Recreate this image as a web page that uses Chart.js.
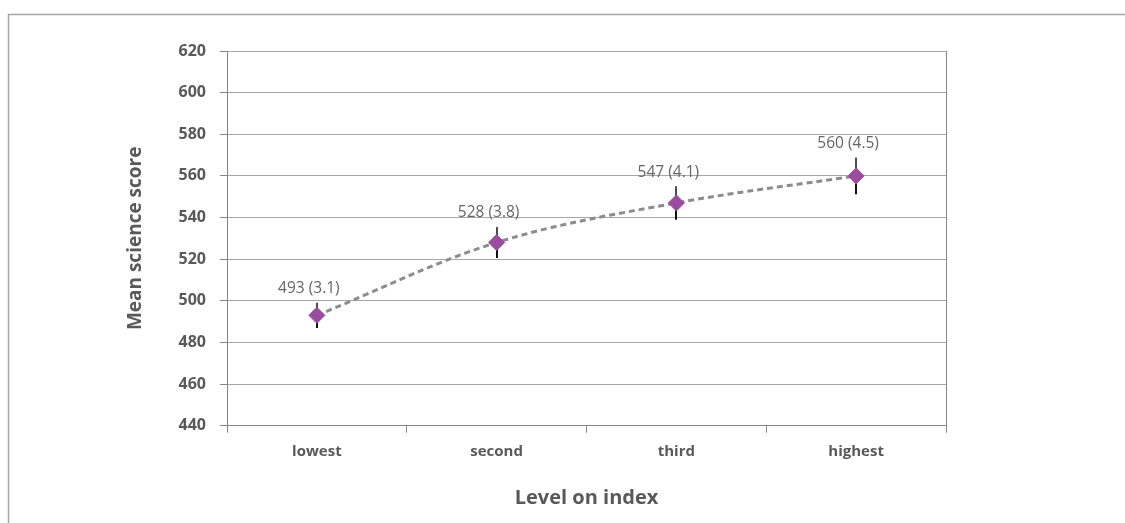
<!DOCTYPE html>
<html>
<head>
<meta charset="utf-8">
<script src="https://cdn.jsdelivr.net/npm/chart.js@4/dist/chart.umd.min.js"></script>
<style>
  html, body { margin: 0; padding: 0; background: #fff; }
  #wrap { width: 1125px; height: 523px; }
</style>
</head>
<body>
<div id="wrap"><canvas id="scoreChart" width="1125" height="523"></canvas></div>
<script>
// chart data
const levels     = ['lowest', 'second', 'third', 'highest'];
const meanScores = [493, 528, 547, 560];
const stdErrors  = [3.1, 3.8, 4.1, 4.5];
const yTicks     = { min: 440, max: 620, step: 20 };

const FONT       = '"Open Sans", "Noto Sans", sans-serif';
const TEXT_GREY  = '#595959';
const GRID_GREY  = '#a6a6a6';
const AXIS_GREY  = '#868686';
const PURPLE     = '#9a4c9e';

/**
 * Outer frame (top + left edge only, like the source page crop)
 * plus the right-hand border of the plot area.
 */
const framePlugin = {
    id: 'frame',
    beforeDraw(chart) {
        const { ctx, chartArea: a } = chart;
        ctx.save();
        ctx.strokeStyle = '#a6a6a6';
        ctx.lineWidth = 1.5;
        ctx.beginPath();
        ctx.moveTo(8.5, chart.height);
        ctx.lineTo(8.5, 14.5);
        ctx.lineTo(chart.width, 14.5);
        ctx.stroke();

        ctx.strokeStyle = AXIS_GREY;
        ctx.lineWidth = 1;
        ctx.beginPath();
        ctx.moveTo(Math.round(a.right) + 0.5, a.top);
        ctx.lineTo(Math.round(a.right) + 0.5, a.bottom);
        ctx.stroke();
        ctx.restore();
    }
};

/**
 * 95% confidence bars (mean ± 1.96 SE) drawn behind the diamonds,
 * and the "mean (SE)" labels above each bar.
 */
const errorBarPlugin = {
    id: 'errorBars',
    beforeDatasetsDraw(chart) {
        const { ctx, scales: { x, y } } = chart;
        ctx.save();
        ctx.lineWidth = 2;
        meanScores.forEach((m, i) => {
            const px  = Math.round(x.getPixelForValue(i));
            const mid = y.getPixelForValue(m);
            const top = y.getPixelForValue(m + 1.96 * stdErrors[i]);
            const bot = y.getPixelForValue(m - 1.96 * stdErrors[i]);
            ctx.strokeStyle = '#4d4d4d';
            ctx.beginPath(); ctx.moveTo(px, top); ctx.lineTo(px, mid); ctx.stroke();
            ctx.strokeStyle = '#111';
            ctx.beginPath(); ctx.moveTo(px, mid); ctx.lineTo(px, bot); ctx.stroke();
        });
        ctx.restore();
    },
    afterDatasetsDraw(chart) {
        const { ctx, scales: { x, y } } = chart;
        ctx.save();
        ctx.font = `15.5px ${FONT}`;
        ctx.fillStyle = '#666';
        ctx.textAlign = 'center';
        ctx.textBaseline = 'middle';
        meanScores.forEach((m, i) => {
            const px  = x.getPixelForValue(i);
            const top = y.getPixelForValue(m + 1.96 * stdErrors[i]);
            ctx.fillText(`${m} (${stdErrors[i].toFixed(1)})`, px - 8, top - 14);
        });
        ctx.restore();
    }
};

const ctx = document.getElementById('scoreChart').getContext('2d');

new Chart(ctx, {
    type: 'line',
    data: {
        labels: levels,
        datasets: [{
            data: meanScores,
            borderColor: '#8c8c8c',
            borderWidth: 3,
            borderDash: [6, 4],
            tension: 0.35,
            pointStyle: 'rectRot',
            pointRadius: 8,
            pointBackgroundColor: PURPLE,
            pointBorderColor: PURPLE,
            pointBorderWidth: 1
        }]
    },
    options: {
        responsive: false,
        animation: false,
        layout: { padding: { left: 120, top: 51, right: 179, bottom: 9 } },
        plugins: {
            legend: { display: false },
            tooltip: { enabled: false }
        },
        scales: {
            x: {
                offset: true,
                afterFit(scale) { scale.height = 88.3; },
                grid: {
                    offset: true,
                    drawOnChartArea: false,
                    drawTicks: true,
                    tickLength: 7,
                    color: AXIS_GREY
                },
                border: { display: true, color: AXIS_GREY, width: 1 },
                ticks: {
                    padding: 10,
                    color: TEXT_GREY,
                    font: { family: FONT, size: 15, weight: 'bold' }
                },
                title: {
                    display: true,
                    text: 'Level on index',
                    color: TEXT_GREY,
                    padding: { top: 4, bottom: 4 },
                    font: { family: FONT, size: 20, weight: 'bold' }
                }
            },
            y: {
                min: yTicks.min,
                max: yTicks.max,
                afterFit(scale) { scale.width = 107; },
                grid: {
                    color: GRID_GREY,
                    tickLength: 7,
                    tickColor: AXIS_GREY
                },
                border: { display: true, color: AXIS_GREY, width: 1 },
                ticks: {
                    stepSize: yTicks.step,
                    padding: 14,
                    color: TEXT_GREY,
                    font: { family: FONT, size: 16, weight: 'bold' }
                },
                title: {
                    display: true,
                    text: 'Mean science score',
                    color: TEXT_GREY,
                    padding: { top: 4, bottom: 4 },
                    font: { family: FONT, size: 19, weight: 'bold' }
                }
            }
        }
    },
    plugins: [framePlugin, errorBarPlugin]
});
</script>
</body>
</html>
